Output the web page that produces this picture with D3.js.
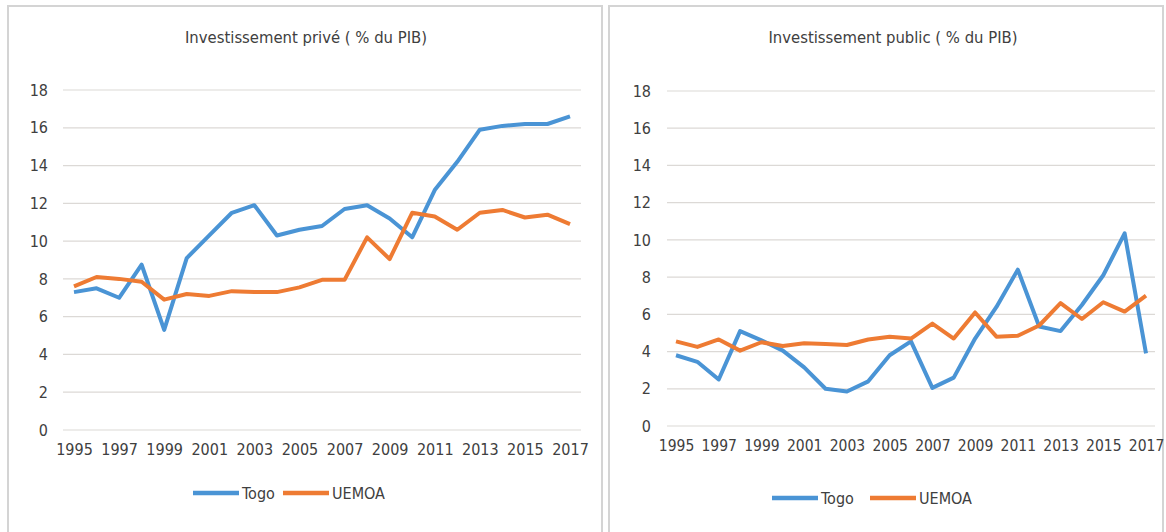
<!DOCTYPE html>
<html>
<head>
<meta charset="utf-8">
<style>
    body { margin: 0; background: #fff; }
    svg { display: block; }
    text { font-family: "DejaVu Sans Condensed", "DejaVu Sans", sans-serif; fill: #404040; }
    .grid line { stroke: #dcd9d6; stroke-width: 1.2; }
    .line { fill: none; stroke-width: 4; stroke-linejoin: round; }
</style>
</head>
<body>
<svg width="1166" height="532"></svg>
<script src="https://cdn.jsdelivr.net/npm/d3@7"></script>
<script>

    var years = d3.range(1995, 2018);
    var yTicks = [0, 2, 4, 6, 8, 10, 12, 14, 16, 18];
    var xTickYears = [1995, 1997, 1999, 2001, 2003, 2005, 2007, 2009, 2011, 2013, 2015, 2017];
    var seriesNames = ["Togo", "UEMOA"];
    var colors = ["#4a94d5", "#ee7b33"];

    // investissement privé
    var priveTogo = [7.3, 7.5, 7.0, 8.75, 5.3, 9.1, 10.3, 11.5, 11.9, 10.3, 10.6, 10.8, 11.7, 11.9, 11.2, 10.2,
        12.7, 14.2, 15.9, 16.1, 16.2, 16.2, 16.6];
    var priveUemoa = [7.6, 8.1, 8.0, 7.85, 6.9, 7.2, 7.1, 7.35, 7.3, 7.3, 7.55, 7.95, 7.95, 10.2, 9.05, 11.5,
        11.3, 10.6, 11.5, 11.65, 11.25, 11.4, 10.9];

    // investissement public
    var publicTogo = [3.8, 3.45, 2.5, 5.1, 4.6, 4.05, 3.15, 2.0, 1.85, 2.4, 3.8, 4.55, 2.05, 2.6, 4.7, 6.4,
        8.4, 5.35, 5.1, 6.5, 8.1, 10.35, 3.9];
    var publicUemoa = [4.55, 4.25, 4.65, 4.05, 4.5, 4.3, 4.45, 4.4, 4.35, 4.65, 4.8, 4.7, 5.5, 4.7, 6.1, 4.8,
        4.85, 5.4, 6.6, 5.75, 6.65, 6.15, 7.0];

    var svg = d3.select("svg");

    // cadres des deux graphiques
    svg.append("rect").attr("x", 8).attr("y", 6).attr("width", 594).attr("height", 540)
        .attr("fill", "none").attr("stroke", "#d4d4d4").attr("stroke-width", 2);
    svg.append("rect").attr("x", 609).attr("y", 6).attr("width", 554).attr("height", 540)
        .attr("fill", "none").attr("stroke", "#d4d4d4").attr("stroke-width", 2);

    function drawChart(cfg) {
        var g = svg.append("g");

        var x = d3.scalePoint().domain(years).range([cfg.x0, cfg.x1]);
        var y = d3.scaleLinear().domain([0, 18]).range([cfg.y0, cfg.y18]);

        g.append("text")
            .attr("x", cfg.titleX).attr("y", 43)
            .attr("text-anchor", "middle")
            .style("font-size", "16.5px")
            .text(cfg.title);

        // grille horizontale
        g.append("g").attr("class", "grid")
            .selectAll("line").data(yTicks).enter().append("line")
            .attr("x1", cfg.gx0).attr("x2", cfg.gx1)
            .attr("y1", d => y(d)).attr("y2", d => y(d));

        // axe y
        var yAxis = g.append("g")
            .attr("transform", "translate(" + cfg.labelX + ",0)")
            .call(d3.axisLeft(y).tickValues(yTicks).tickSize(0).tickPadding(0));
        yAxis.select(".domain").remove();
        yAxis.selectAll("text").style("font-size", "16px").attr("fill", "#333");

        // axe x
        var xAxis = g.append("g")
            .attr("transform", "translate(0," + cfg.xLabelY + ")")
            .call(d3.axisBottom(x).tickValues(xTickYears).tickSize(0).tickPadding(0));
        xAxis.select(".domain").remove();
        xAxis.selectAll("text").style("font-size", cfg.xFont).attr("fill", "#333");

        var line = d3.line()
            .x((d, i) => x(years[i]))
            .y(d => y(d));

        cfg.series.forEach(function (s, k) {
            g.append("path")
                .datum(s)
                .attr("class", "line")
                .attr("stroke", colors[k])
                .attr("d", line);
        });

        // légende
        var leg = g.append("g").selectAll("g").data(seriesNames).enter().append("g")
            .attr("transform", (d, i) => "translate(" + cfg.legendX[i] + "," + cfg.legendY + ")");
        leg.append("line")
            .attr("x1", 0).attr("x2", 46).attr("y1", 0).attr("y2", 0)
            .attr("stroke", (d, i) => colors[i]).attr("stroke-width", 4.5);
        leg.append("text")
            .attr("x", 49).attr("y", 6)
            .style("font-size", "16px")
            .text(d => d);
    }

    drawChart({
        title: "Investissement privé ( % du PIB)",
        titleX: 306,
        x0: 74, x1: 570, gx0: 63, gx1: 581,
        y0: 430, y18: 90,
        labelX: 48, xLabelY: 444, xFont: "16px",
        legendX: [193, 283], legendY: 493,
        series: [priveTogo, priveUemoa]
    });

    drawChart({
        title: "Investissement public ( % du PIB)",
        titleX: 893,
        x0: 676, x1: 1146, gx0: 667, gx1: 1155,
        y0: 426, y18: 91,
        labelX: 651, xLabelY: 440, xFont: "15.5px",
        legendX: [772, 870], legendY: 498,
        series: [publicTogo, publicUemoa]
    });

</script>
</body>
</html>
